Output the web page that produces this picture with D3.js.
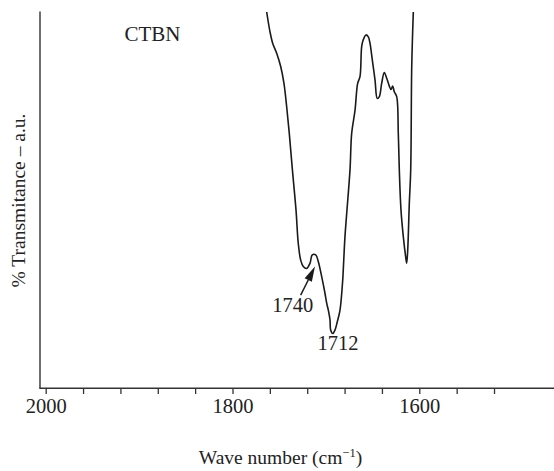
<!DOCTYPE html>
<html>
<head>
<meta charset="utf-8">
<script src="https://cdn.jsdelivr.net/npm/d3@7"></script>
<style>
  html, body { margin: 0; padding: 0; background: #fff; }
  svg { display: block; }
  text { font-family: "Liberation Serif", "Times New Roman", serif; fill: #222; }
</style>
</head>
<body>
<svg id="chart" width="554" height="471"></svg>
<script>
// Wavenumber (cm^-1)
const wavenumber = [1763.4,1759.9,1757.0,1752.7,1748.4,1744.9,1742.0,1739.2,1736.0,1732.0,
  1729.6,1727.0,1724.2,1720.6,1717.0,1714.6,1710.9,1708.1,1704.5,1701.0,
  1699.1,1697.4,1695.6,1694.9,1692.7,1690.3,1687.8,1684.9,1682.0,1681.4,
  1679.6,1677.7,1674.2,1672.4,1668.8,1666.0,1663.5,1661.7,1660.0,1657.1,
  1654.6,1652.8,1650.3,1647.4,1645.0,1642.8,1640.3,1637.5,1634.9,1632.1,
  1630.3,1628.5,1626.8,1624.2,1622.5,1621.4,1619.6,1617.1,1614.6,1613.5,
  1612.4,1610.7,1609.2,1608.1,1606.4];
// Transmittance (arbitrary units)
const transmittance = [100,94.8,91.7,89.0,85.5,81.0,74.8,67.7,58.4,47.3,
  38.5,34.0,32.3,31.8,33.2,35.4,35.4,33.6,29.6,25.2,
  22.5,20.7,18.1,15.4,14.5,15.4,17.6,20.7,28.7,31.4,
  40.2,46.5,58.0,67.7,73.9,81.0,82.8,90.8,92.6,93.9,
  93.4,91.7,87.2,81.9,77.0,77.5,81.0,83.9,82.4,80.3,
  79.4,80.3,78.8,77.5,67.8,58.0,47.3,40.2,34.9,33.2,
  36.7,49.1,58.0,85.5,100];
const tickValues = [2000,1960,1920,1880,1840,1800,1760,1720,1680,1640,1600,1560,1520];
const tickLabels = ["2000","1800","1600"];
const seriesLabel = "CTBN";
const peakLabels = ["1740","1712"];
const peakLabelPos = [[1735.4,20.2],[1687.0,10.1]];
const arrowTail = [1727.0,24.7];
const arrowTip = [1711.7,32.3];

const svg = d3.select("#chart");
svg.append("rect").attr("width",554).attr("height",471).attr("fill","#fff");

const x = d3.scaleLinear().domain([2000,1600]).range([45.7,419.3]);
const y = d3.scaleLinear().domain([0,100]).range([388,12]);

const axisLeftX = 40, axisBottomY = 388.3;

// axis lines
svg.append("line").attr("x1",axisLeftX).attr("x2",axisLeftX).attr("y1",11.5).attr("y2",axisBottomY)
  .attr("stroke","#333").attr("stroke-width",1.4);
svg.append("line").attr("x1",axisLeftX-0.7).attr("x2",554).attr("y1",axisBottomY).attr("y2",axisBottomY)
  .attr("stroke","#333").attr("stroke-width",1.4);

// bottom ticks
const xAxis = d3.axisBottom(x)
  .tickValues(tickValues)
  .tickSize(5)
  .tickPadding(0)
  .tickFormat(d => tickLabels.includes(String(d)) ? String(d) : "");
const gx = svg.append("g").attr("transform",`translate(0,${axisBottomY+0.7})`).call(xAxis);
gx.select(".domain").remove();
gx.selectAll(".tick line").attr("stroke","#333").attr("stroke-width",1.3);
gx.selectAll(".tick text").attr("y",23.8).attr("dy",0)
  .style("font-family","'Liberation Serif', 'Times New Roman', serif")
  .style("font-size","20.5px").attr("fill","#222");

// spectrum
const line = d3.line().x((d,i)=>x(wavenumber[i])).y((d,i)=>y(transmittance[i])).curve(d3.curveCatmullRom.alpha(0.5));
svg.append("path").datum(transmittance).attr("d",line)
  .attr("fill","none").attr("stroke","#1a1a1a").attr("stroke-width",1.6).attr("stroke-linejoin","round");

// labels
svg.append("text").attr("x",152.5).attr("y",40.5).attr("text-anchor","middle")
  .style("font-size","21px").text(seriesLabel);

peakLabels.forEach((t,i)=>{
  svg.append("text").attr("x",x(peakLabelPos[i][0])).attr("y",y(peakLabelPos[i][1]))
    .attr("text-anchor","middle").style("font-size","20.5px").text(t);
});

// arrow
const tx = x(arrowTail[0]), ty = y(arrowTail[1]);
const hx = x(arrowTip[0]), hy = y(arrowTip[1]);
const ang = Math.atan2(hy-ty, hx-tx);
const headLen = 15, headW = 4;
const bx = hx - headLen*Math.cos(ang), by = hy - headLen*Math.sin(ang);
svg.append("line").attr("x1",tx).attr("y1",ty).attr("x2",bx).attr("y2",by)
  .attr("stroke","#1a1a1a").attr("stroke-width",1.5);
svg.append("path").attr("d",
  `M${hx},${hy} L${bx - headW*Math.sin(ang)},${by + headW*Math.cos(ang)} L${bx + headW*Math.sin(ang)},${by - headW*Math.cos(ang)} Z`)
  .attr("fill","#1a1a1a");

// axis titles
const xt = svg.append("text").attr("x",280.5).attr("y",463.5).attr("text-anchor","middle").style("font-size","19.5px");
xt.append("tspan").text("Wave number (cm");
xt.append("tspan").attr("dy",-7).style("font-size","12.5px").text("−1");
xt.append("tspan").attr("dy",7).text(")");

svg.append("text").attr("transform","translate(24.5,200.5) rotate(-90)").attr("text-anchor","middle")
  .style("font-size","19.5px").text("% Transmitance – a.u.");
</script>
</body>
</html>
